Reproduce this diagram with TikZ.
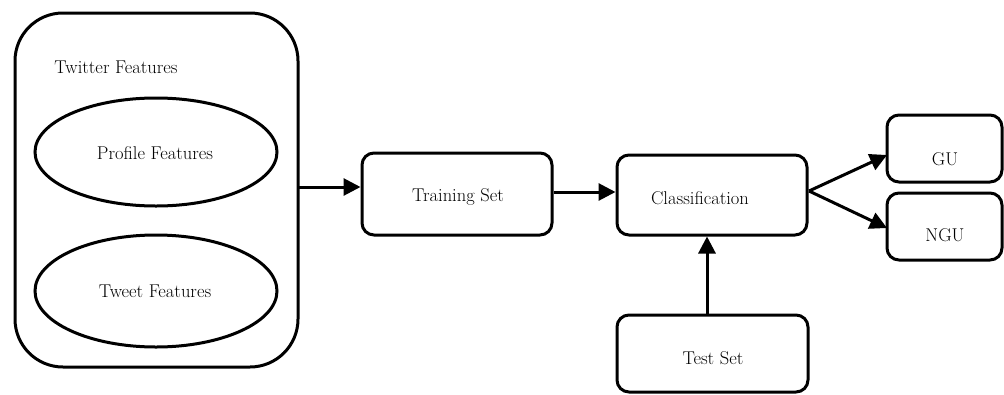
\documentclass[tikz,border=0pt]{standalone}
\usetikzlibrary{arrows.meta,shapes.geometric}
\begin{document}
\begin{tikzpicture}[x=1pt,y=-1pt,
  lbl/.style={font=\fontsize{18.5}{22}\selectfont, inner sep=0pt},
  rbox/.style={draw, line width=3pt, rounded corners=12pt},
  oval/.style={draw, line width=3pt, ellipse},
  conn/.style={line width=3pt, -{Triangle[length=17pt,width=17pt]}}]
\useasboundingbox (0,0) rectangle (1004,394);
% outer container
\draw[line width=3pt, rounded corners=48pt] (15,13) rectangle (298,367);
\coordinate (outR) at (298,187);
\node[lbl] (tw) at (116,67) {Twitter Features};
\draw[oval] (156,152) ellipse [x radius=121, y radius=54];
\node[lbl] (pf) at (155,153) {Profile Features};
\draw[oval] (156,291) ellipse [x radius=121, y radius=56];
\node[lbl] (tf) at (155,291) {Tweet Features};
% boxes
\node[rbox, minimum width=190pt, minimum height=82pt] (train) at (457,194) {};
\node[lbl] at (458,197) {Training Set};
\node[rbox, minimum width=190pt, minimum height=80pt] (cls) at (712,195) {};
\node[lbl] at (700,198) {Classification};
\node[rbox, minimum width=115pt, minimum height=67pt] (gu) at (944.5,148.5) {};
\node[lbl] at (945,159) {GU};
\node[rbox, minimum width=115pt, minimum height=67pt] (ngu) at (944.5,226.5) {};
\node[lbl] at (945,235) {NGU};
\node[rbox, minimum width=191pt, minimum height=77pt] (test) at (712.5,353.5) {};
\node[lbl] at (713,358) {Test Set};
% connectors
\draw[conn] (outR) -- (train.west |- outR);
\draw[conn] (train.east |- 0,192) -- (cls.west |- 0,192);
\coordinate (cr) at (809,191);
\draw[conn] (cr) -- (887,155);
\draw[conn] (cr) -- (887,228);
\draw[conn] (test.north -| 707,0) -- (cls.south -| 707,0);
\end{tikzpicture}
\end{document}
